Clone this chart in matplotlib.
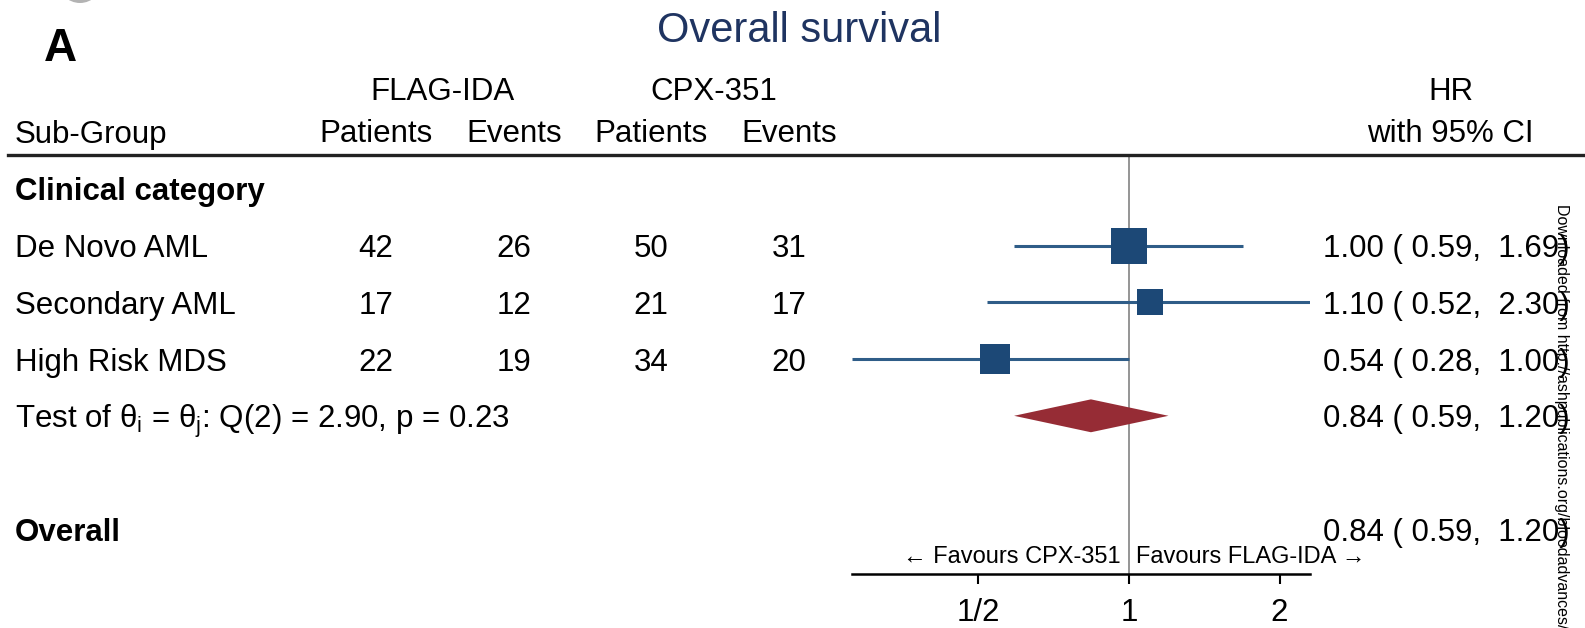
import numpy as np
import matplotlib
matplotlib.use('Agg')
import matplotlib.pyplot as plt
from matplotlib.lines import Line2D
from matplotlib.patches import Ellipse
from matplotlib.transforms import blended_transform_factory

plt.rcParams['font.family'] = ['Liberation Sans', 'DejaVu Sans']
plt.rcParams['mathtext.fontset'] = 'custom'
plt.rcParams['mathtext.rm'] = 'Liberation Sans'
plt.rcParams['mathtext.it'] = 'Liberation Sans:italic'

# data
groups = ['De Novo AML', 'Secondary AML', 'High Risk MDS']
flag_patients = [42, 17, 22]
flag_events = [26, 12, 19]
cpx_patients = [50, 21, 34]
cpx_events = [31, 17, 20]
hr = [1.00, 1.10, 0.54]
ci_low = [0.59, 0.52, 0.28]
ci_high = [1.69, 2.30, 1.00]
pooled = [0.84, 0.59, 1.20]
overall = [0.84, 0.59, 1.20]
het_q, het_df, het_p = 2.90, 2, 0.23
tick_vals = [0.5, 1, 2]
tick_labels = ['1/2', '1', '2']

W, H = 1585, 628
BLUE = '#1c4876'
LINE_BLUE = '#2f5d88'
RED = '#962c35'
NAVY = '#1f3461'
FS = 22.5
HR_FMT = '%.2f ( %.2f,  %.2f)'


def fx(x):
    return x / W


def fy(y):
    return 1 - y / H


fig = plt.figure(figsize=(W / 100, H / 100), dpi=100)

# forest panel: from header line down to x axis
top_px, bot_px = 155, 574
left_px, right_px = 852, 1310
ax = fig.add_axes([fx(left_px), fy(bot_px), fx(right_px - left_px), (bot_px - top_px) / H])
row0_px, row_step = 189, 56.7
ax.set_ylim((bot_px - row0_px) / row_step, (top_px - row0_px) / row_step)
ax.set_xscale('log', base=2)
ax.set_xlim(min(ci_low), max(ci_high))
for s in ['top', 'left', 'right']:
    ax.spines[s].set_visible(False)
ax.spines['bottom'].set_linewidth(1.8)
ax.set_yticks([])
ax.set_xticks(tick_vals)
ax.set_xticklabels(tick_labels)
ax.minorticks_off()
ax.tick_params(axis='x', length=7, width=1.5, pad=10, labelsize=FS)
ax.patch.set_alpha(0)

ax.axvline(1, color='#8c8c8c', lw=1.3, zorder=1)

# weights for box sizes (inverse variance from CI)
se = (np.log(ci_high) - np.log(ci_low)) / (2 * 1.96)
w = 1 / se ** 2
rows = np.arange(1, len(groups) + 1)
ax.hlines(rows, ci_low, ci_high, color=LINE_BLUE, lw=2.2, zorder=2)
for r, h, wi in zip(rows, hr, w):
    ax.plot([h], [r], marker='s', ms=26.2 * np.sqrt(wi / w.max()), color=BLUE,
            mec=BLUE, mew=0, ls='none', zorder=3)

# pooled diamond
dr = 4
dh = 0.29
ax.fill([pooled[1], pooled[0], pooled[2], pooled[0]], [dr, dr - dh, dr, dr + dh],
        color=RED, lw=0, zorder=3)

fav_row = (557 - row0_px) / row_step
ax.text(0.965, fav_row, '\u2190 Favours CPX-351', ha='right', va='center', fontsize=17)
ax.text(1.035, fav_row, 'Favours FLAG-IDA \u2192', ha='left', va='center', fontsize=17)

# table text, x in pixels -> figure fraction, y in forest rows
tr = blended_transform_factory(fig.transFigure, ax.transData)
col_x = [376, 514, 651, 789]
hr_x = 1323
fig.text(fx(15), 0, 'Clinical category', transform=tr, fontsize=FS, fontweight='bold', va='center_baseline')
for i, g in enumerate(groups):
    r = rows[i]
    fig.text(fx(15), r, g, transform=tr, fontsize=FS, va='center_baseline')
    vals = [flag_patients[i], flag_events[i], cpx_patients[i], cpx_events[i]]
    for cx, v in zip(col_x, vals):
        fig.text(fx(cx), r, str(v), transform=tr, fontsize=FS, ha='center', va='center_baseline')
    fig.text(fx(hr_x), r, HR_FMT % (hr[i], ci_low[i], ci_high[i]),
             transform=tr, fontsize=FS, ha='left', va='center_baseline')

het = r'Test of $\mathrm{\theta_i}$ = $\mathrm{\theta_j}$: Q(%d) = %.2f, p = %.2f' % (het_df, het_q, het_p)
fig.text(fx(15), 4, het, transform=tr, fontsize=FS, va='center_baseline')
fig.text(fx(hr_x), 4, HR_FMT % tuple(pooled), transform=tr, fontsize=FS,
         ha='left', va='center_baseline')
fig.text(fx(15), 6, 'Overall', transform=tr, fontsize=FS, fontweight='bold', va='center_baseline')
fig.text(fx(hr_x), 6, HR_FMT % tuple(overall), transform=tr, fontsize=FS,
         ha='left', va='center_baseline')

# headers
fig.text(fx(799), fy(26), 'Overall survival', fontsize=30, color=NAVY, ha='center', va='center_baseline')
fig.text(fx(44), fy(44), 'A', fontsize=33, fontweight='bold', va='center_baseline')
fig.text(fx(442), fy(88), 'FLAG-IDA', fontsize=FS, ha='center', va='center_baseline')
fig.text(fx(714), fy(88), 'CPX-351', fontsize=FS, ha='center', va='center_baseline')
fig.text(fx(1451), fy(88), 'HR', fontsize=FS, ha='center', va='center_baseline')
fig.text(fx(15), fy(131), 'Sub-Group', fontsize=FS, va='center_baseline')
for cx, lab in zip(col_x, ['Patients', 'Events', 'Patients', 'Events']):
    fig.text(fx(cx), fy(131), lab, fontsize=FS, ha='center', va='center_baseline')
fig.text(fx(1450), fy(131), 'with 95% CI', fontsize=FS, ha='center', va='center_baseline')

fig.add_artist(Line2D([fx(8), 1], [fy(top_px), fy(top_px)], transform=fig.transFigure,
                      color='#222222', lw=2.4))

# grey mark at top-left and side watermark
fig.add_artist(Ellipse((fx(80), fy(-19)), 44 / W, 44 / H, transform=fig.transFigure,
                       color='#b3b3b3', lw=0))
fig.text(fx(1561), fy(204), 'Downloaded from http://ashpublications.org/bloodadvances/',
         rotation=270, fontsize=11.5, ha='center', va='top')

fig.savefig('out.png', dpi=100, facecolor='white')
